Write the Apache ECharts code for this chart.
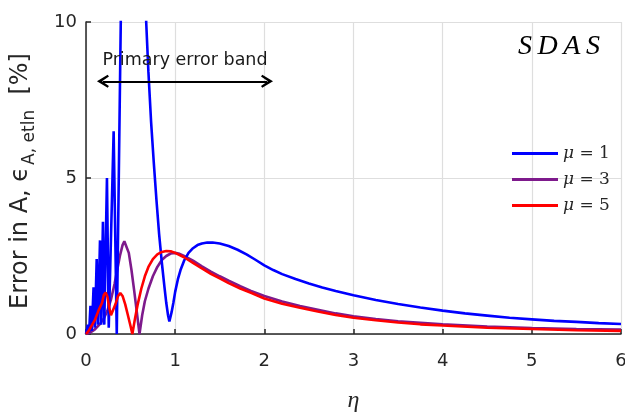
<!DOCTYPE html>
<html><head><meta charset="utf-8">
<script src="https://cdn.jsdelivr.net/npm/echarts@6/dist/echarts.min.js"></script>
<style>html,body{margin:0;padding:0;background:#fff}#c{width:625px;height:412px}</style>
</head><body><div id="c"></div>
<script>
// mu = 1
const eta1 = [0,0.02,0.035,0.05,0.065,0.085,0.1,0.12,0.135,0.157,0.17,0.19,0.205,0.235,0.255,0.31,0.345,0.39,0.41,0.66,0.675,0.7,0.73,0.76,0.79,0.82,0.85,0.88,0.9,0.92,0.935,0.96,0.98,1.0,1.03,1.06,1.1,1.15,1.2,1.25,1.3,1.36,1.42,1.5,1.6,1.7,1.8,1.9,2.0,2.1,2.2,2.35,2.5,2.65,2.8,3.0,3.25,3.5,3.75,4.0,4.25,4.5,4.75,5.0,5.25,5.5,5.75,6.0];
const err1 = [0,0.3,0.05,0.9,0.1,1.5,0.2,2.4,0.3,3.0,0.3,3.6,0.3,5.0,0.2,6.5,0,10,30,30,10,8.4,6.8,5.5,4.3,3.2,2.3,1.5,1.0,0.6,0.4,0.7,1.0,1.35,1.75,2.05,2.35,2.6,2.75,2.85,2.9,2.93,2.93,2.9,2.82,2.7,2.55,2.38,2.2,2.05,1.92,1.76,1.62,1.49,1.38,1.24,1.09,0.96,0.85,0.75,0.66,0.59,0.52,0.47,0.42,0.39,0.35,0.32];
// mu = 3
const eta3 = [0,0.05,0.1,0.15,0.2,0.24,0.28,0.32,0.35,0.38,0.41,0.43,0.45,0.48,0.51,0.54,0.57,0.6,0.63,0.66,0.7,0.75,0.8,0.85,0.9,0.95,1.0,1.05,1.1,1.2,1.3,1.4,1.5,1.6,1.73,1.85,2.0,2.2,2.4,2.6,2.8,3.0,3.25,3.5,3.75,4.0,4.5,5.0,5.5,6.0];
const err3 = [0,0.05,0.15,0.3,0.5,0.75,1.1,1.6,2.05,2.5,2.85,2.97,2.92,2.6,2.05,1.4,0.7,0,0.6,1.05,1.45,1.85,2.15,2.37,2.5,2.58,2.6,2.57,2.5,2.35,2.17,2.0,1.85,1.71,1.53,1.38,1.22,1.04,0.9,0.78,0.66,0.57,0.48,0.41,0.36,0.31,0.24,0.19,0.16,0.14];
// mu = 5
const eta5 = [0,0.03,0.06,0.08,0.1,0.12,0.14,0.16,0.18,0.2,0.22,0.24,0.26,0.28,0.3,0.33,0.36,0.385,0.41,0.44,0.47,0.5,0.52,0.55,0.58,0.62,0.66,0.7,0.75,0.8,0.85,0.9,0.95,1.0,1.1,1.2,1.3,1.4,1.5,1.6,1.73,1.85,2.0,2.2,2.4,2.6,2.8,3.0,3.25,3.5,3.75,4.0,4.5,5.0,5.5,6.0];
const err5 = [0,0.1,0.25,0.2,0.45,0.4,0.75,0.7,1.0,1.25,1.33,1.2,0.85,0.6,0.65,0.95,1.22,1.31,1.22,0.95,0.6,0.25,0,0.5,0.95,1.45,1.85,2.15,2.4,2.55,2.63,2.66,2.65,2.6,2.46,2.28,2.1,1.93,1.78,1.63,1.46,1.32,1.14,0.97,0.84,0.72,0.61,0.52,0.44,0.37,0.31,0.27,0.2,0.16,0.12,0.1];
const seriesNames = ['mu1','mu3','mu5'];
const legendLabels = {mu1:'1', mu3:'3', mu5:'5'};
const xTicks = [0,1,2,3,4,5,6];
const yTicks = [0,5,10];
const bandStart = 0.19, bandEnd = 2.03, bandLevel = 8.1;

const pairs = (xs, ys) => xs.map((x, i) => [x, ys[i]]);
const SANS = 'DejaVu Sans';
const SERIF = 'DejaVu Serif';
const chart = echarts.init(document.getElementById('c'), null, {renderer:'canvas'});
const lineStyle = c => ({color:c, width:2.6});
const chevron = 'path://M5,0 L10,8.5 L8.6,9.5 L5,4 L1.4,9.5 L0,8.5 Z';
chart.setOption({
  animation:false,
  grid:{left:86, right:4, top:22, bottom:78, outerBoundsMode:'none', containLabel:false},
  xAxis:{type:'value', min:xTicks[0], max:xTicks[xTicks.length-1], interval:1,
    axisLine:{onZero:false, lineStyle:{color:'#262626', width:1.5}},
    axisTick:{inside:true, length:5, lineStyle:{color:'#262626', width:1.5}},
    axisLabel:{color:'#262626', fontFamily:SANS, fontSize:18, margin:18},
    splitLine:{show:true, lineStyle:{color:'#dedede', width:1.2}},
    name:'η', nameLocation:'middle', nameGap:55,
    nameTextStyle:{fontFamily:'Liberation Serif', fontStyle:'italic', fontSize:24, color:'#262626'}},
  yAxis:{type:'value', min:yTicks[0], max:yTicks[yTicks.length-1], interval:5,
    axisLine:{show:true, lineStyle:{color:'#262626', width:1.5}},
    axisTick:{show:true, inside:true, length:5, lineStyle:{color:'#262626', width:1.5}},
    axisLabel:{color:'#262626', fontFamily:SANS, fontSize:18, margin:9},
    splitLine:{show:true, lineStyle:{color:'#dedede', width:1.2}}},
  legend:{orient:'vertical', left:507, top:139, itemWidth:46, itemHeight:3, icon:'rect', itemGap:7,
    data:seriesNames,
    formatter: n => '{m|μ} = ' + legendLabels[n],
    textStyle:{fontFamily:SERIF, fontSize:17, color:'#262626', lineHeight:19,
      rich:{m:{fontFamily:SERIF, fontStyle:'italic', fontSize:17, color:'#262626'}}}},
  graphic:[
    {type:'text', x:559, y:47, style:{text:'S\u2009D\u2009A\u2009S', fontFamily:'Liberation Serif', fontStyle:'italic', fontSize:28, fill:'#000', align:'center', verticalAlign:'middle'}},
    {type:'text', x:21, y:181, rotation:Math.PI/2,
      style:{text:'Error in A, {e|ϵ}{s|A, etln}  [%]', fontFamily:SANS, fontSize:24, fill:'#262626', align:'center', verticalAlign:'middle',
        rich:{e:{fontFamily:SANS, fontSize:24, fill:'#262626', lineHeight:34, verticalAlign:'middle'},
              s:{fontFamily:SANS, fontSize:17, fill:'#262626', lineHeight:34, verticalAlign:'bottom', padding:[12,0,0,2]}}}}
  ],
  series:[
    {name:'mu1', type:'line', data:pairs(eta1, err1), showSymbol:false, lineStyle:lineStyle('#0000ff'), itemStyle:{color:'#0000ff'}, z:3},
    {name:'mu3', type:'line', data:pairs(eta3, err3), showSymbol:false, lineStyle:lineStyle('#7e1a8c'), itemStyle:{color:'#7e1a8c'}, z:2},
    {name:'mu5', type:'line', data:pairs(eta5, err5), showSymbol:false, lineStyle:lineStyle('#ff0000'), itemStyle:{color:'#ff0000'}, z:4},
    {name:'band', type:'line', data:[], markLine:{silent:true, symbol:[chevron, chevron], symbolSize:[13,12],
      lineStyle:{color:'#000', width:2.2, type:'solid'},
      label:{show:true, position:'middle', formatter:'Primary error band', fontFamily:SANS, fontSize:17.5, color:'#1a1a1a', distance:12},
      data:[[{coord:[bandStart, bandLevel]},{coord:[bandEnd, bandLevel]}]]}}
  ]
});
</script></body></html>
